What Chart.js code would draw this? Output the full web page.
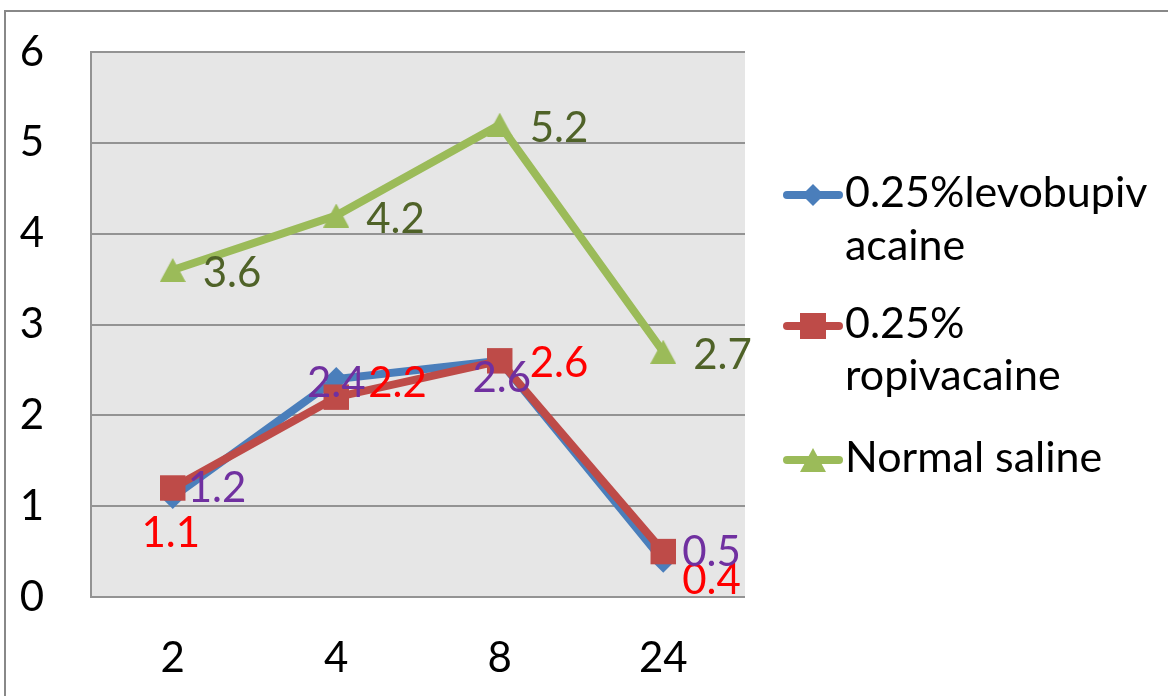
<!DOCTYPE html>
<html>
<head>
<meta charset="utf-8">
<title>Pain scores by hour</title>
<script src="https://cdn.jsdelivr.net/npm/chart.js@4/dist/chart.umd.min.js"></script>
<style>
  html, body { margin: 0; padding: 0; background: #ffffff; }
  #wrap { width: 1168px; height: 696px; }
</style>
</head>
<body>
<div id="wrap"><canvas id="chart" width="1168" height="696"></canvas></div>
<script>
// Hours after the block
const hours = ['2', '4', '8', '24'];

// Mean score per group at each hour
const levobupivacaine = [1.1, 2.4, 2.6, 0.4];
const ropivacaine = [1.2, 2.2, 2.6, 0.5];
const normalSaline = [3.6, 4.2, 5.2, 2.7];

// Legend text, one entry per series (each line drawn separately)
const seriesNames = [
  ['0.25%levobupiv', 'acaine'],
  ['0.25%', 'ropivacaine'],
  ['Normal saline']
];

const FONT = 'Lato, "Open Sans", sans-serif';
const BLUE = '#4a7ebb';
const RED = '#be4b48';
const GREEN = '#9bbb59';
const PURPLE = '#7030a0';
const LABEL_RED = '#ff0000';
const OLIVE = '#4f6228';

function triangleMarker(w, h, color) {
  const c = document.createElement('canvas');
  c.width = w; c.height = h;
  const g = c.getContext('2d');
  g.fillStyle = color;
  g.beginPath();
  g.moveTo(w / 2, 0);
  g.lineTo(w, h);
  g.lineTo(0, h);
  g.closePath();
  g.fill();
  return c;
}
const greenTriangle = triangleMarker(26, 24, GREEN);

// Placement of the value labels next to each point
const valueLabelLayout = [
  [
    { dx: -2, dy: 35, align: 'center', color: LABEL_RED },
    { dx: 0, dy: 3, align: 'center', color: PURPLE },
    { dx: 2, dy: 16, align: 'center', color: PURPLE },
    { dx: 19, dy: 18, align: 'left', color: LABEL_RED }
  ],
  [
    { dx: 15, dy: -1, align: 'left', color: PURPLE },
    { dx: 32, dy: -15, align: 'left', color: LABEL_RED },
    { dx: 30, dy: 1, align: 'left', color: LABEL_RED },
    { dx: 19, dy: -1, align: 'left', color: PURPLE }
  ],
  [
    { dx: 30, dy: 2, align: 'left', color: OLIVE },
    { dx: 30, dy: 2, align: 'left', color: OLIVE },
    { dx: 30, dy: 2, align: 'left', color: OLIVE },
    { dx: 30, dy: 2, align: 'left', color: OLIVE }
  ]
];

const frameAndBackground = {
  id: 'frameAndBackground',
  beforeDraw(chart) {
    const { ctx, chartArea: a } = chart;
    ctx.save();
    ctx.fillStyle = '#e6e6e6';
    ctx.fillRect(a.left, a.top, a.right - a.left, a.bottom - a.top);
    // outer chart frame
    ctx.strokeStyle = '#888888';
    ctx.lineWidth = 2;
    ctx.beginPath();
    ctx.moveTo(5, chart.height + 2);
    ctx.lineTo(5, 11);
    ctx.lineTo(chart.width + 2, 11);
    ctx.stroke();
    ctx.restore();
  }
};

const valueLabels = {
  id: 'valueLabels',
  afterDatasetsDraw(chart) {
    const { ctx } = chart;
    const size = 42;
    ctx.save();
    ctx.font = size + 'px ' + FONT;
    ctx.textBaseline = 'alphabetic';
    chart.data.datasets.forEach((ds, di) => {
      const meta = chart.getDatasetMeta(di);
      meta.data.forEach((pt, i) => {
        const lay = valueLabelLayout[di][i];
        ctx.fillStyle = lay.color;
        ctx.textAlign = lay.align;
        ctx.fillText(ds.data[i].toFixed(1), pt.x + lay.dx, pt.y + lay.dy + size * 0.36);
      });
    });
    ctx.restore();
  }
};

function drawMarker(ctx, style, x, y) {
  ctx.save();
  if (style === 'rectRot') {
    const r = 11;
    ctx.fillStyle = BLUE;
    ctx.beginPath();
    ctx.moveTo(x - r, y); ctx.lineTo(x, y - r); ctx.lineTo(x + r, y); ctx.lineTo(x, y + r);
    ctx.closePath(); ctx.fill();
  } else if (style === 'rect') {
    ctx.fillStyle = RED;
    ctx.fillRect(x - 13, y - 13, 26, 26);
  } else {
    ctx.drawImage(greenTriangle, x - 13, y - 12);
  }
  ctx.restore();
}

const sideLegend = {
  id: 'sideLegend',
  afterDraw(chart) {
    const { ctx } = chart;
    const size = 43;
    const baselines = [[207, 260], [338, 390], [472]];
    ctx.save();
    chart.data.datasets.forEach((ds, di) => {
      const y = baselines[di][0] - 12;
      ctx.strokeStyle = ds.borderColor;
      ctx.lineWidth = 8;
      ctx.lineCap = 'round';
      ctx.beginPath();
      ctx.moveTo(787, y);
      ctx.lineTo(839, y);
      ctx.stroke();
      drawMarker(ctx, ds.pointStyle === greenTriangle ? 'tri' : ds.pointStyle, 813, y);
      ctx.fillStyle = '#000000';
      ctx.font = size + 'px ' + FONT;
      ctx.textAlign = 'left';
      ctx.textBaseline = 'alphabetic';
      seriesNames[di].forEach((line, li) => {
        ctx.fillText(line, 845, baselines[di][li]);
      });
    });
    ctx.restore();
  }
};

new Chart(document.getElementById('chart'), {
  type: 'line',
  data: {
    labels: hours,
    datasets: [
      {
        label: seriesNames[0].join(''),
        data: levobupivacaine,
        borderColor: BLUE,
        backgroundColor: BLUE,
        borderWidth: 8,
        pointStyle: 'rectRot',
        pointRadius: 12,
        pointBorderWidth: 0,
        order: 3
      },
      {
        label: seriesNames[1].join(' '),
        data: ropivacaine,
        borderColor: RED,
        backgroundColor: RED,
        borderWidth: 8,
        pointStyle: 'rect',
        pointRadius: 18,
        pointBorderWidth: 0,
        order: 2
      },
      {
        label: seriesNames[2][0],
        data: normalSaline,
        borderColor: GREEN,
        backgroundColor: GREEN,
        borderWidth: 8,
        pointStyle: greenTriangle,
        pointRadius: 13,
        pointBorderWidth: 0,
        order: 1
      }
    ]
  },
  options: {
    responsive: false,
    devicePixelRatio: 1,
    animation: false,
    events: [],
    layout: { autoPadding: false, padding: { left: 0, top: 52, right: 423, bottom: 0 } },
    plugins: {
      legend: { display: false },
      tooltip: { enabled: false }
    },
    scales: {
      x: {
        offset: true,
        grid: { display: false, drawTicks: false },
        border: { display: false },
        ticks: { color: '#000000', font: { family: FONT, size: 42 }, padding: 36 },
        afterFit(scale) {
          scale.height = 99;
          scale.paddingLeft = 0;
          scale.paddingRight = 0;
        }
      },
      y: {
        min: 0,
        max: 6,
        ticks: { stepSize: 1, color: '#000000', font: { family: FONT, size: 42 }, padding: 47 },
        grid: { color: '#939393', lineWidth: 2, drawTicks: false },
        border: { display: true, color: '#939393', width: 2 },
        afterFit(scale) {
          scale.width = 91;
          scale.paddingTop = 0;
          scale.paddingBottom = 0;
        }
      }
    }
  },
  plugins: [frameAndBackground, valueLabels, sideLegend]
});
</script>
</body>
</html>
